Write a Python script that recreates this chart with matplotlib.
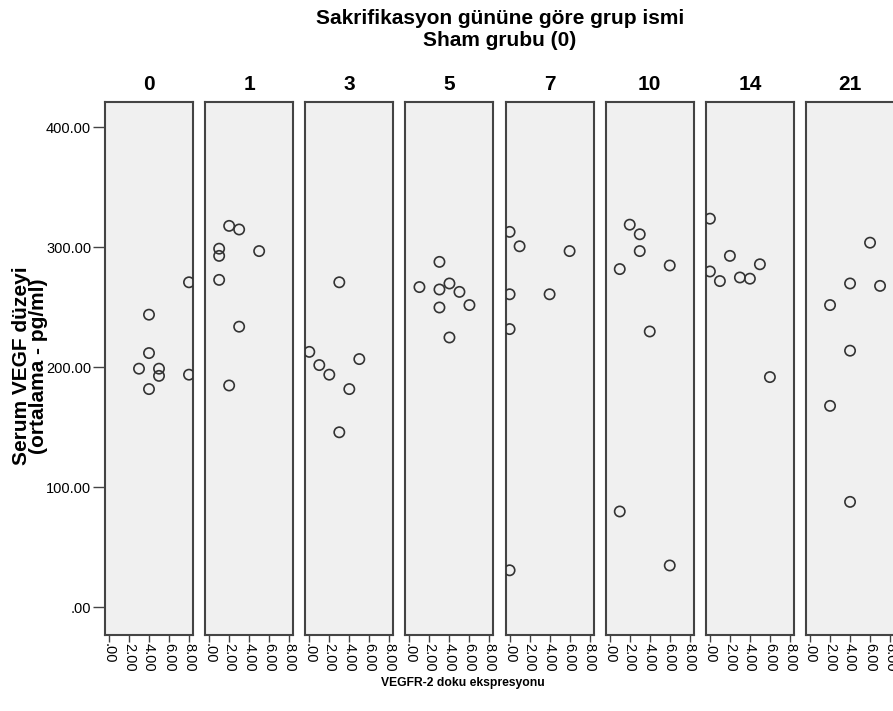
"""SPSS-style paneled scatter: serum VEGF vs VEGFR-2 expression by sacrifice day."""

import matplotlib.pyplot as plt

plt.rcParams["font.family"] = ["Liberation Sans", "DejaVu Sans"]

groups = ["0", "1", "3", "5", "7", "10", "14", "21"]

vegfr2 = [
    [4, 4, 3, 5, 5, 4, 8, 8],
    [2, 3, 1, 1, 5, 1, 3, 2],
    [3, 0, 1, 2, 5, 4, 3],
    [1, 3, 3, 4, 5, 6, 3, 4],
    [0, 1, 6, 0, 4, 0, 0],
    [2, 3, 3, 1, 6, 4, 1, 6],
    [0, 0, 1, 2, 3, 4, 5, 6],
    [6, 4, 7, 2, 4, 2, 4],
]
vegf = [
    [244, 212, 199, 199, 193, 182, 271, 194],
    [318, 315, 299, 293, 297, 273, 234, 185],
    [271, 213, 202, 194, 207, 182, 146],
    [267, 288, 265, 270, 263, 252, 250, 225],
    [313, 301, 297, 261, 261, 232, 31],
    [319, 311, 297, 282, 285, 230, 80, 35],
    [324, 280, 272, 293, 275, 274, 286, 192],
    [304, 270, 268, 252, 214, 168, 88],
]

x_ticks = [0, 2, 4, 6, 8]
x_tick_labels = [".00", "2.00", "4.00", "6.00", "8.00"]
y_ticks = [0, 100, 200, 300, 400]
y_tick_labels = [".00", "100.00", "200.00", "300.00", "400.00"]

W, H = 893, 711
fig = plt.figure(figsize=(W / 100, H / 100), dpi=100)

left0, pitch, width = 105, 100.15, 88
top, bottom = 101.8, 634.6

for i, name in enumerate(groups):
    x0 = left0 + i * pitch
    ax = fig.add_axes([x0 / W, 1 - bottom / H, width / W, (bottom - top) / H])
    ax.set_facecolor("#f0f0f0")
    ax.scatter(vegfr2[i], vegf[i], s=55, facecolors="none",
               edgecolors="#333333", linewidths=1.2, zorder=3)
    ax.set_xlim(-0.4, 8.4)
    ax.set_ylim(-22.6, 421.4)
    for spine in ax.spines.values():
        spine.set_color("#444444")
        spine.set_linewidth(1.5)
    ax.set_xticks(x_ticks)
    ax.set_xticklabels(x_tick_labels, rotation=-90, fontsize=10.5)
    ax.tick_params(axis="x", length=5, width=1, color="#444444", pad=1)
    if i == 0:
        ax.set_yticks(y_ticks)
        ax.set_yticklabels(y_tick_labels, fontsize=10.5)
        ax.tick_params(axis="y", length=9, width=1, color="#444444", pad=1)
    else:
        ax.set_yticks([])
    ax.text(0.5, 1 - (84 - top) / (bottom - top), name, transform=ax.transAxes,
            ha="center", va="center", fontsize=15, fontweight="bold")

fig.text(500 / W, 1 - 19 / H, "Sakrifikasyon gününe göre grup ismi",
         ha="center", va="center", fontsize=15, fontweight="bold")
fig.text(500 / W, 1 - 40 / H, "Sham grubu (0)",
         ha="center", va="center", fontsize=15, fontweight="bold")
fig.text(30 / W, 1 - 366 / H, "Serum VEGF düzeyi\n(ortalama - pg/ml)",
         ha="center", va="center", rotation=90, fontsize=15, fontweight="bold",
         linespacing=0.85)
fig.text(463 / W, 1 - 683 / H, "VEGFR-2 doku ekspresyonu",
         ha="center", va="center", fontsize=8.7, fontweight="bold")

fig.savefig("out.png", dpi=100)
